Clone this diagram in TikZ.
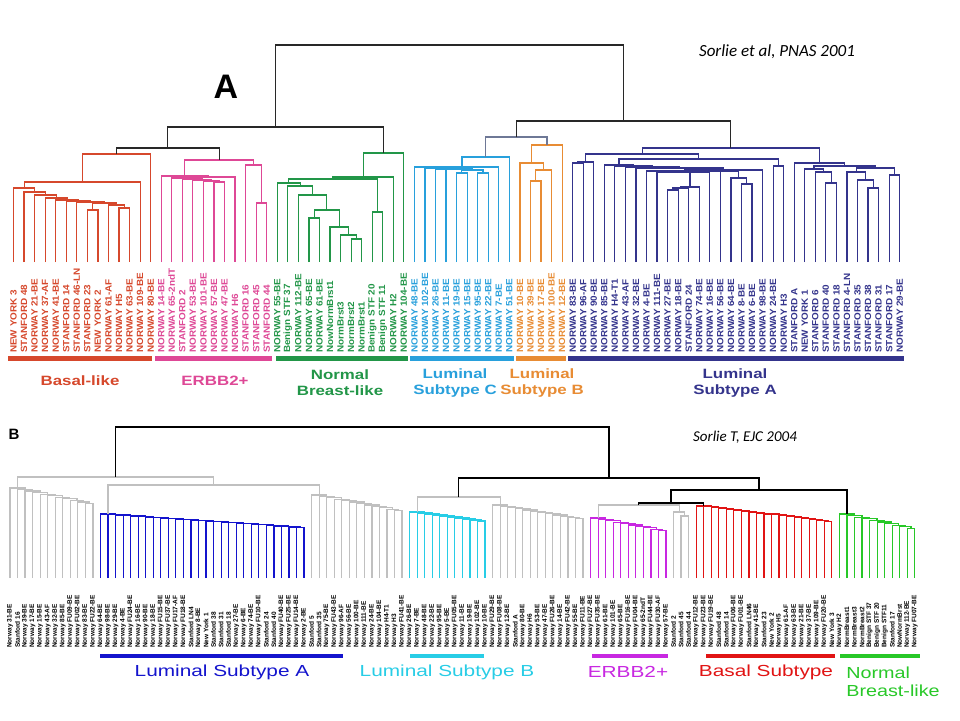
\documentclass[tikz,border=0pt]{standalone}
\usepackage{fontspec}
\setmainfont{Liberation Sans}
\newfontfamily\citefont{Carlito}
\usetikzlibrary{calc}

\definecolor{basal}{RGB}{214,72,44}
\definecolor{erbb}{RGB}{222,72,150}
\definecolor{normal}{RGB}{34,150,72}
\definecolor{lumc}{RGB}{40,160,220}
\definecolor{lumb}{RGB}{232,140,52}
\definecolor{luma}{RGB}{52,52,140}
\definecolor{trunk}{RGB}{40,40,40}
\definecolor{slate}{RGB}{110,120,150}
\definecolor{bgrey}{RGB}{192,192,192}
\definecolor{bblue}{RGB}{20,20,205}
\definecolor{bcyan}{RGB}{40,205,230}
\definecolor{bmag}{RGB}{200,40,225}
\definecolor{bred}{RGB}{225,20,20}
\definecolor{bgreen}{RGB}{40,200,40}

% bracket joining two children at height #4
\newcommand{\merge}[5]{%
  \path (#1) -- (#2) coordinate[pos=.5] (m#3);
  \coordinate (#3) at (m#3 |- 0,#4);
  \draw[branch,#5] (#1) |- (#3) -| (#2);}

% one coloured group of leaves in panel A
\newcommand{\toprow}[3]{%
  \foreach \lab [count=\k from #1] in {#3}{
    \coordinate (t\k) at ({13.5+10.55*\k},262);
    \node[toplab,text=#2] (tl\k) at ({13.5+10.55*\k},353) {\lab};}}

% staircase of leaves #1..#2 in panel B
\newcommand{\comb}[5]{%
  \coordinate (c#2) at (b#2);
  \pgfmathtruncatemacro\cbeg{#2-1}
  \foreach \k in {\cbeg,...,#1}{
    \pgfmathtruncatemacro\kn{\k+1}
    \pgfmathsetmacro\hh{#4-(#4-#3)*(#2-\k)/(#2-#1)}
    \merge{b\k}{c\kn}{c\k}{\hh}{#5}}}

\begin{document}
\begin{tikzpicture}[x=1pt,y=-1pt,
  branch/.style={line width=1.2pt},
  toplab/.style={rotate=90,xscale=1.1,anchor=west,inner sep=0pt,font=\fontsize{9}{9}\selectfont\bfseries},
  botlab/.style={rotate=90,anchor=west,inner sep=0pt,font=\fontsize{6.5}{6.5}\selectfont\bfseries},
  toptitle/.style={align=center,xscale=1.25,font=\fontsize{13.5}{16}\selectfont\bfseries},
  bottitle/.style={align=left,xscale=1.3,font=\fontsize{16}{18}\selectfont},
  bar/.style={line width=5pt}]
\useasboundingbox (0,0) rectangle (960,720);
\fill[white] (0,0) rectangle (960,720);

% ---------------- panel A
\node[font=\fontsize{34}{34}\selectfont\bfseries] (pA) at (226,87) {A};
\node[font=\citefont\itshape\fontsize{17}{17}\selectfont] (citeA) at (777,52) {Sorlie et al, PNAS 2001};

\toprow{0}{basal}{NEW YORK 3,STANFORD 48,NORWAY 21-BE,NORWAY 37-AF,NORWAY 41-BE,STANFORD 14,STANFORD 46-LN,STANFORD 23,NEW YORK 2,NORWAY 61-AF,NORWAY H5,NORWAY 63-BE,NORWAY 109-BE,NORWAY 80-BE}
\toprow{14}{erbb}{NORWAY 14-BE,NORWAY 65-2ndT,STANFORD 2,NORWAY 53-BE,NORWAY 101-BE,NORWAY 57-BE,NORWAY 47-BE,NORWAY H6,STANFORD 16,STANFORD 45,STANFORD 44}
\toprow{25}{normal}{NORWAY 55-BE,Benign STF 37,NORWAY 112-BE,NORWAY 65-BE,NORWAY 61-BE,NowNormBrst1,NormBrst3,NormBrst2,NormBrst1,Benign STF 20,Benign STF 11,NORWAY H2,NORWAY 104-BE}
\toprow{38}{lumc}{NORWAY 48-BE,NORWAY 102-BE,NORWAY 26-BE,NORWAY 11-BE,NORWAY 19-BE,NORWAY 15-BE,NORWAY 95-BE,NORWAY 22-BE,NORWAY 7-BE,NORWAY 51-BE}
\toprow{48}{lumb}{NORWAY 10-BE,NORWAY 39-BE,NORWAY 17-BE,NORWAY 100-BE,NORWAY 12-BE}
\toprow{53}{luma}{NORWAY 83-BE,NORWAY 96-AF,NORWAY 90-BE,NORWAY 85-BE,NORWAY H4-T1,NORWAY 43-AF,NORWAY 32-BE,NORWAY 4-BE,NORWAY 111-BE,NORWAY 27-BE,NORWAY 18-BE,STANFORD 24,NORWAY 74-BE,NORWAY 16-BE,NORWAY 56-BE,NORWAY 64-BE,NORWAY 8-BE,NORWAY 6-BE,NORWAY 98-BE,NORWAY 24-BE,NORWAY H3,STANFORD A,NEW YORK 1,STANFORD 6,STANFORD 40,STANFORD 18,STANFORD 4-LN,STANFORD 35,STANFORD 38,STANFORD 31,STANFORD 17,NORWAY 29-BE}

\foreach \a/\b/\n/\h in {t10/t11/r1/208,t7/t8/r2/210,t9/r1/r3/205,r2/r3/r4/203,t6/r4/r5/202,
  t5/r5/r6/201,t4/r6/r7/200,t3/r7/r8/198,t2/r8/r9/195,t1/r9/r10/192,t0/r10/r11/188,
  r11/t12/r12/182,r12/t13/r13/154}
  \merge{\a}{\b}{\n}{\h}{basal};
\foreach \a/\b/\n/\h in {t19/t20/p1/182,t18/p1/p2/181,t17/p2/p3/180,t16/p3/p4/179,t15/p4/p5/178,
  p5/t21/p6/177,t14/p6/p7/176,t23/t24/p8/203,t22/p8/p9/165,p7/p9/p10/160}
  \merge{\a}{\b}{\n}{\h}{erbb};
\foreach \a/\b/\n/\h in {t32/t33/g1/239,t31/g1/g2/235,t30/g2/g3/227,t28/t29/g4/218,g4/g3/g5/210,
  t27/g5/g6/195,t26/g6/g7/186,t25/g7/g8/183,t34/t35/g9/212,g8/g9/g10/179,g10/t36/g11/177,
  g11/t37/g12/153}
  \merge{\a}{\b}{\n}{\h}{normal};
\foreach \a/\b/\n/\h in {t42/t43/c1/173,t44/t45/c2/173,c1/c2/c3/170,t41/c3/c4/169,t40/c4/c5/169,
  t39/c5/c6/168,t38/c6/c7/167,c7/t46/c8/167,c8/t47/c9/157}
  \merge{\a}{\b}{\n}{\h}{lumc};
\foreach \a/\b/\n/\h in {t49/t50/o1/181,o1/t51/o2/170,t48/o2/o3/163,o3/t52/o4/145}
  \merge{\a}{\b}{\n}{\h}{lumb};
\foreach \a/\b/\n/\h in {t53/t54/nl1/163,nl1/t55/nl2/162,t62/t63/nl3/190,nl3/t64/nl4/188,
  nl4/t65/nl5/187,t69/t70/nl6/184,t68/nl6/nl7/178,t61/nl5/nl8/172,nl8/t66/nl9/172,
  nl9/t67/nl10/171,nl10/nl7/nl11/171,t60/nl11/nl12/171,nl12/t71/nl13/170,t59/nl13/nl14/168,
  t58/nl14/nl15/167,t57/nl15/nl16/166,t56/nl16/nl17/165,t72/t73/nl18/166,nl17/nl18/nl19/159,
  nl2/nl19/nl20/154,t77/t78/nr1/183,t76/nr1/nr2/172,t75/nr2/nr3/169,t81/t82/nr4/188,
  t80/nr4/nr5/180,t79/nr5/nr6/172,t83/t84/nr7/175,nr6/nr7/nr8/168,nr3/nr8/nr9/166,
  t74/nr9/nr10/163,nl20/nr10/nv/148}
  \merge{\a}{\b}{\n}{\h}{luma};
\merge{c9}{o4}{lbo}{137}{slate}
\foreach \a/\b/\n/\h in {r13/p10/rp/148,rp/g12/lft/127,lbo/nv/rgt/121,lft/rgt/root/45}
  \merge{\a}{\b}{\n}{\h}{trunk};

\draw[bar,basal] (8,358) -- (152,358);
\draw[bar,erbb] (155,358) -- (272,358);
\draw[bar,normal] (276,358) -- (408,358);
\draw[bar,lumc] (410,358) -- (514,358);
\draw[bar,lumb] (516,358) -- (566,358);
\draw[bar,luma] (568,358) -- (904,358);

\node[toptitle,text=basal] (tBasal) at (80,381) {Basal-like};
\node[toptitle,text=erbb] (tErbb) at (215,381) {ERBB2+};
\node[toptitle,text=normal] (tNormal) at (340,383) {Normal\\Breast-like};
\node[toptitle,text=lumc] (tLumC) at (455,383) {Luminal\\Subtype C};
\node[toptitle,text=lumb] (tLumB) at (542,383) {Luminal\\Subtype B};
\node[toptitle,text=luma] (tLumA) at (735,383) {Luminal\\Subtype A};

% ---------------- panel B
\node[font=\fontsize{15}{15}\selectfont\bfseries] (pB) at (14,434) {B};
\node[font=\citefont\itshape\fontsize{15}{15}\selectfont] (citeB) at (745,437) {Sorlie T, EJC 2004};

\foreach \lab [count=\k] in {Norway 31-BE,Stanford 16,Norway 39-BE,Norway 17-BE,Norway 15-BE,
  Norway 43-AF,Norway 32-BE,Norway 85-BE,Norway FU09-BE,Norway FU02-BE,Norway 83-BE,
  Norway FU22-BE,Norway 64-BE,Norway 98-BE,Norway 29-BE,Norway 4-BE,Norway FU24-BE,
  Norway 16-BE,Norway 90-BE,Norway 18-BE,Norway FU15-BE,Norway FU37-BE,Norway FU17-AF,
  Norway FU18-BE,Stanford LN4,Norway 8-BE,New York 1,Stanford 38,Stanford 31,Stanford 18,
  Norway 27-BE,Norway 6-BE,Norway 74-BE,Norway FU10-BE,Stanford 24,Stanford 40,
  Norway FU40-BE,Norway FU25-BE,Norway FU14-BE,Norway 2-BE,Stanford 5,Stanford 35,
  Norway 75-BE,Norway FU43-BE,Norway 96-AF,Norway 56-BE,Norway 100-BE,Norway 111-BE,
  Norway 24-BE,Norway 104-BE,Norway H4-T1,Norway H3,Norway FU41-BE,Norway 26-BE,
  Norway 7-BE,Norway 48-BE,Norway 22-BE,Norway 95-BE,Norway 5-BE,Norway FU05-BE,
  Norway 11-BE,Norway 19-BE,Norway 102-BE,Norway 10-BE,Norway FU29-BE,Norway FU08-BE,
  Norway 12-BE,Stanford A,Norway 80-BE,Norway H6,Norway 53-BE,Norway 47-BE,Norway FU26-BE,
  Norway 14-BE,Norway FU42-BE,Norway 55-BE,Norway FU11-BE,Norway FU27-BE,Norway FU35-BE,
  Norway 61-BE,Norway 101-BE,Norway 65-BE,Norway FU16-BE,Norway FU04-BE,Norway 65-2ndT,
  Norway FU44-BE,Norway FU30-AF,Norway 57-BE,Stanford 2,Stanford 45,Stanford 44,
  Norway FU12-BE,Norway FU23-BE,Norway FU19-BE,Stanford 48,Stanford 14,Norway FU06-BE,
  Norway FU01-BE,Stanford LN46,Norway 41-BE,Stanford 23,New York 2,Norway H5,Norway 61-AF,
  Norway 63-BE,Norway 21-BE,Norway 37-BE,Norway 109-BE,Norway FU20-BE,New York 3,Norway H2,
  NormBreast1,NormBreast3,NormBreast2,Benign STF 37,Benign STF 20,Benign STF11,Stanford 17,
  NowNormBrst,Norway 112-BE,Norway FU07-BE}{
  \coordinate (b\k) at ({10+7.54*(\k-1)},578);
  \node[botlab] (bl\k) at ({10+7.54*(\k-1)},648) {\lab};}

\comb{1}{12}{488}{505}{bgrey}
\comb{13}{40}{514}{528}{bblue}
\comb{41}{53}{495}{512}{bgrey}
\comb{54}{64}{512}{522}{bcyan}
\comb{65}{77}{505}{520}{bgrey}
\comb{78}{88}{518}{532}{bmag}
\comb{89}{91}{512}{520}{bgrey}
\comb{92}{110}{506}{522}{bred}
\comb{111}{121}{514}{530}{bgreen}
\foreach \a/\b/\n/\h in {c13/c41/j1/485,c1/j1/j2/477,c54/c65/j3/497,c78/c89/j4/505}
  \merge{\a}{\b}{\n}{\h}{bgrey};
\foreach \a/\b/\n/\h in {j4/c92/j5/503,j5/c111/j6/490,j3/j6/j7/478,j2/j7/broot/427}
  \merge{\a}{\b}{\n}{\h}{black,line width=1.6pt};

\draw[bar,line width=4pt,bblue] (100,656) -- (343,656);
\draw[bar,line width=4pt,bcyan] (410,656) -- (484,656);
\draw[bar,line width=4pt,bmag] (592,656) -- (668,656);
\draw[bar,line width=4pt,bred] (706,656) -- (835,656);
\draw[bar,line width=4pt,bgreen] (840,656) -- (920,656);

\node[bottitle,text=bblue] (tBLumA) at (222,672) {Luminal Subtype A};
\node[bottitle,text=bcyan] (tBLumB) at (447,672) {Luminal Subtype B};
\node[bottitle,text=bmag] (tBErbb) at (628,672) {ERBB2+};
\node[bottitle,text=bred] (tBBasal) at (766,672) {Basal Subtype};
\node[bottitle,xscale=0.95,text=bgreen,anchor=north west] (tBNormal) at (842,663) {Normal\\Breast-like};
\end{tikzpicture}
\end{document}
